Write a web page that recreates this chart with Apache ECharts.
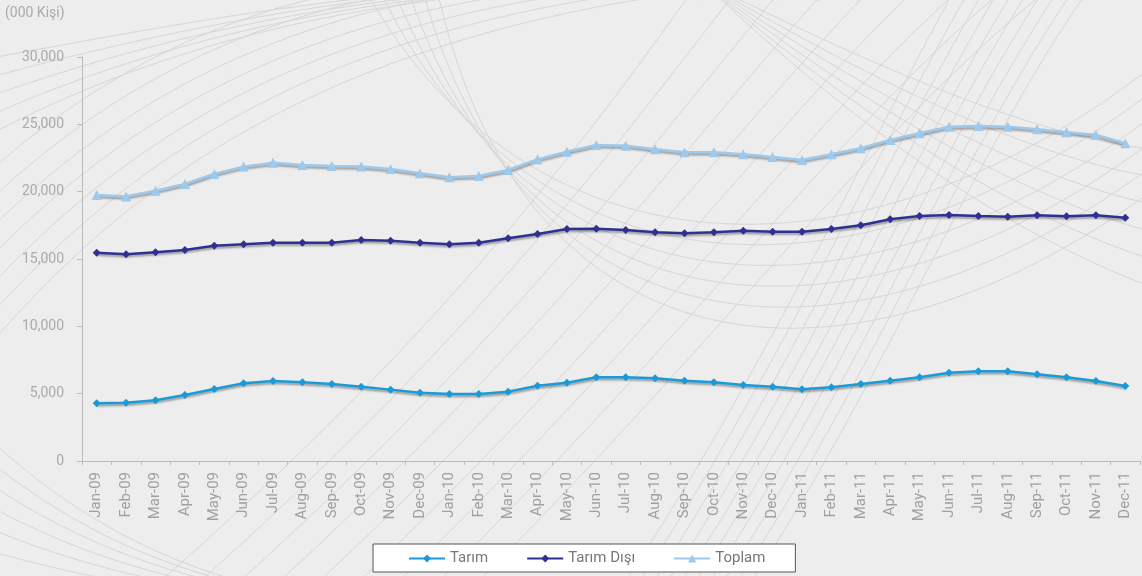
<!DOCTYPE html>
<html><head><meta charset="utf-8">
<script src="https://cdn.jsdelivr.net/npm/echarts@6/dist/echarts.min.js"></script>
<style>html,body{margin:0;padding:0;background:#ededed;}#c{width:1142px;height:576px;}</style>
</head><body><div id="c"></div>
<script>
const categories = ['Jan-09','Feb-09','Mar-09','Apr-09','May-09','Jun-09','Jul-09','Aug-09','Sep-09','Oct-09','Nov-09','Dec-09',
 'Jan-10','Feb-10','Mar-10','Apr-10','May-10','Jun-10','Jul-10','Aug-10','Sep-10','Oct-10','Nov-10','Dec-10',
 'Jan-11','Feb-11','Mar-11','Apr-11','May-11','Jun-11','Jul-11','Aug-11','Sep-11','Oct-11','Nov-11','Dec-11'];
const tarim = [4280,4330,4510,4900,5350,5770,5940,5840,5720,5520,5300,5070,
 4975,4975,5150,5590,5815,6215,6215,6140,5960,5840,5645,5520,
 5320,5470,5720,5960,6215,6560,6660,6660,6440,6215,5940,5570];
const tarimDisi = [15470,15350,15500,15670,15990,16090,16210,16210,16210,16410,16360,16210,
 16090,16210,16540,16860,17230,17250,17150,16980,16910,16980,17100,17030,
 17030,17230,17500,17950,18190,18270,18190,18140,18250,18170,18250,18070];
const toplam = [19750,19650,20075,20570,21310,21860,22150,21980,21910,21860,21680,21365,
 21070,21165,21610,22400,22970,23470,23410,23150,22920,22920,22775,22575,
 22350,22775,23220,23840,24335,24825,24880,24825,24630,24410,24210,23590];
const seriesNames = ['Tarım','Tarım Dışı','Toplam'];
const unitLabel = '(000 Kişi)';

// decorative background curves
const deco = [];
function addCurve(x1,y1,cx1,cy1,cx2,cy2,x2,y2){
  deco.push({type:'bezierCurve',silent:true,z:-10,shape:{x1,y1,cpx1:cx1,cpy1:cy1,cpx2:cx2,cpy2:cy2,x2,y2},
    style:{stroke:'#d6d6d6',lineWidth:1,fill:null}});
}
for(let i=0;i<7;i++){ addCurve(-40, 200+i*30, 100, 60+i*25, 300, -40+i*10, 560+i*40, -20); }
for(let i=0;i<9;i++){ addCurve(150+i*40, 590, 450+i*35, 330, 600+i*35, 120, 700+i*45, -20); }
for(let i=0;i<6;i++){ addCurve(360+i*15, -20, 520, 280+i*22, 860, 300+i*22, 1160, 60+i*25); }
for(let i=0;i<10;i++){ addCurve(620+i*14, 590, 760+i*14, 380, 860+i*12, 160, 960+i*15, -20); }
for(let i=0;i<6;i++){ addCurve(-30, 420+i*25, 150, 600, 350, 620, 560+i*30, 600); }
for(let i=0;i<6;i++){ addCurve(700, -20, 900, 80+i*18, 1050, 140+i*22, 1160, 150+i*28); }
for(let i=0;i<5;i++){ addCurve(-20, 60+i*20, 200, 20, 500, -40, 700+i*40, 0); }

const chart = echarts.init(document.getElementById('c'));
const shadow = {shadowColor:'rgba(0,0,0,0.35)',shadowBlur:2,shadowOffsetY:2};
chart.setOption({
  backgroundColor:'#ededed',
  animation:false,
  textStyle:{fontFamily:'Roboto, sans-serif'},
  graphic: deco.concat([{type:'text',left:5,top:6,style:{text:unitLabel,fill:'#aaaaaa',fontSize:14,fontFamily:'Roboto'}}]),
  grid:{left:82,right:2,top:57,bottom:115,containLabel:false},
  legend:{
    data:seriesNames, bottom:4, left:373,
    backgroundColor:'#ffffff', borderColor:'#555555', borderWidth:1, borderRadius:0,
    padding:[7,30,6,35], itemGap:38, itemWidth:36, itemHeight:10,
    textStyle:{color:'#777777',fontSize:15}
  },
  xAxis:{
    type:'category', data:categories, boundaryGap:true,
    axisLine:{lineStyle:{color:'#bbbbbb',width:1}},
    axisTick:{show:true,inside:false,length:4,lineStyle:{color:'#bbbbbb'}},
    axisLabel:{rotate:90,color:'#a0a0a0',fontSize:15,margin:11,interval:0}
  },
  yAxis:{
    type:'value', min:0, max:30000, interval:5000,
    axisLine:{show:true,lineStyle:{color:'#bbbbbb',width:1}},
    axisTick:{show:true,length:5,lineStyle:{color:'#bbbbbb'}},
    splitLine:{show:false},
    axisLabel:{color:'#aaaaaa',fontSize:14,margin:18,formatter:v=>v.toLocaleString('en-US')}
  },
  series:[
    {name:seriesNames[0],type:'line',data:tarim,symbol:'diamond',symbolSize:8,
     itemStyle:{color:'#1a9bd7'},lineStyle:Object.assign({color:'#1a9bd7',width:2.5},shadow)},
    {name:seriesNames[1],type:'line',data:tarimDisi,symbol:'diamond',symbolSize:8,
     itemStyle:{color:'#2e3192'},lineStyle:Object.assign({color:'#2e3192',width:2.5},shadow)},
    {name:seriesNames[2],type:'line',data:toplam,symbol:'triangle',symbolSize:10,
     itemStyle:{color:'#9cc9ec'},lineStyle:Object.assign({color:'#9cc9ec',width:2.5},shadow)}
  ]
});
</script></body></html>
